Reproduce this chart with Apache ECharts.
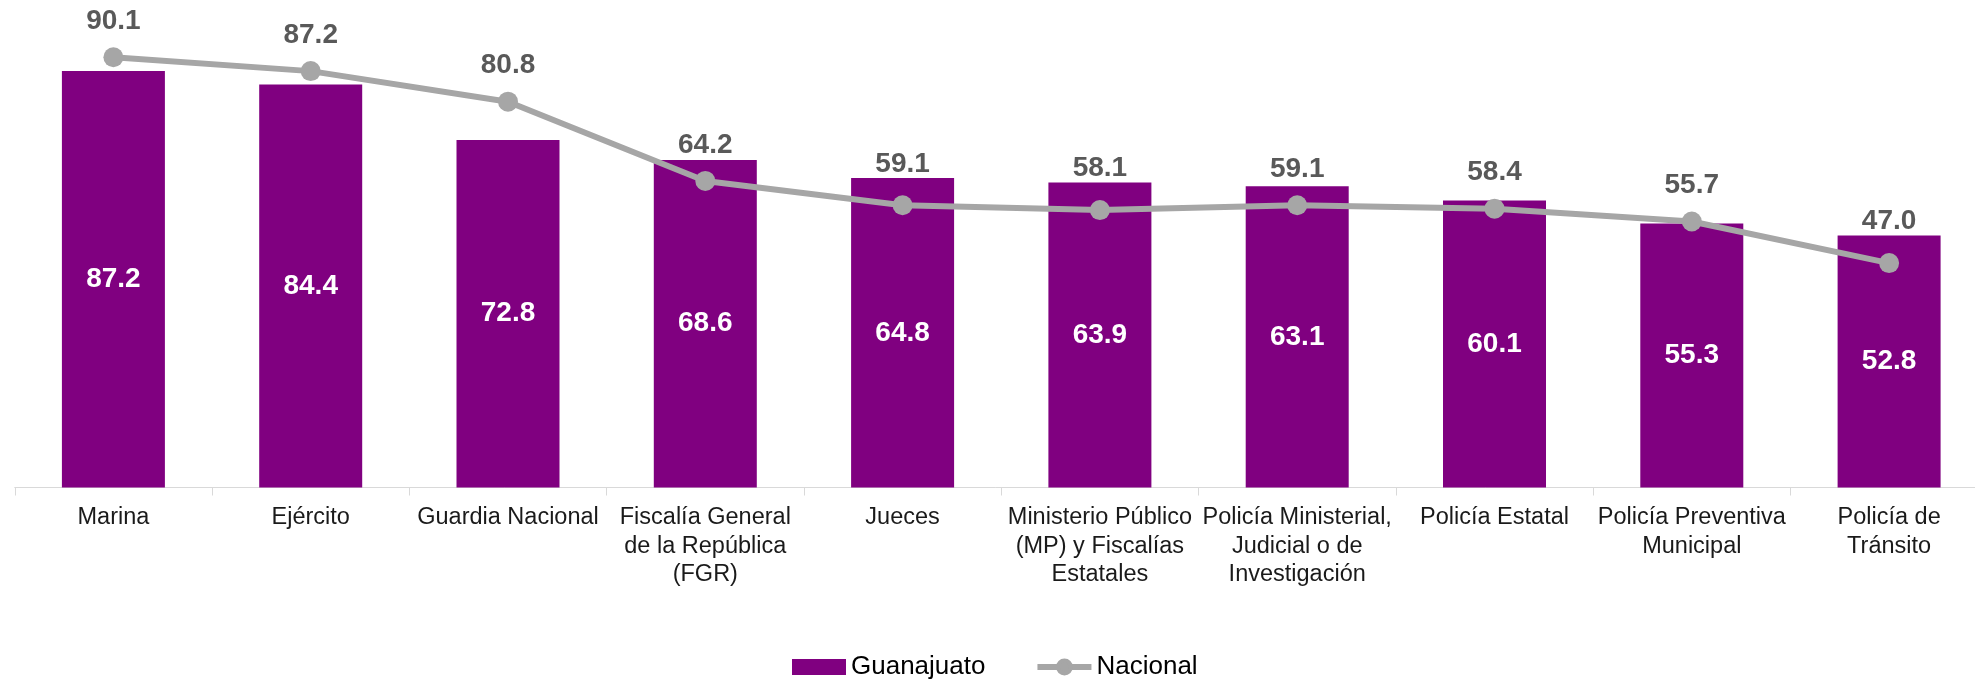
<!DOCTYPE html>
<html>
<head>
<meta charset="utf-8">
<script src="https://cdn.jsdelivr.net/npm/echarts@6/dist/echarts.min.js"></script>
<style>
html,body{margin:0;padding:0;background:#fff;}
#chart{width:1975px;height:679px;}
</style>
</head>
<body>
<div id="chart"></div>
<script>
var categories = [
  'Marina',
  'Ejército',
  'Guardia Nacional',
  'Fiscalía General\nde la República\n(FGR)',
  'Jueces',
  'Ministerio Público\n(MP) y Fiscalías\nEstatales',
  'Policía Ministerial,\nJudicial o de\nInvestigación',
  'Policía Estatal',
  'Policía Preventiva\nMunicipal',
  'Policía de\nTránsito'
];
var guanajuato = [87.2, 84.4, 72.8, 68.6, 64.8, 63.9, 63.1, 60.1, 55.3, 52.8];
var nacional = [90.1, 87.2, 80.8, 64.2, 59.1, 58.1, 59.1, 58.4, 55.7, 47.0];

var chart = echarts.init(document.getElementById('chart'), null, {renderer: 'canvas'});
var FONT = '"Liberation Sans", Arial, sans-serif';

chart.setOption({
  animation: false,
  backgroundColor: '#ffffff',
  textStyle: {fontFamily: FONT},
  grid: {left: 14.75, width: 1973, top: 10, bottom: 191.5, containLabel: false, outerBoundsMode: 'none'},
  legend: {
    left: 787, top: 649,
    itemWidth: 54, itemHeight: 16, itemGap: 49,
    textStyle: {fontFamily: FONT, fontSize: 26, color: '#000000'},
    data: [
      {name: 'Guanajuato', icon: 'rect'},
      {name: 'Nacional', lineStyle: {width: 6, color: '#a6a6a6'},
       itemStyle: {color: '#a6a6a6', borderColor: '#a6a6a6', borderWidth: 4}}
    ]
  },
  xAxis: {
    type: 'category',
    data: categories,
    axisLine: {lineStyle: {color: '#d9d9d9', width: 1}},
    axisTick: {show: true, length: 8, lineStyle: {color: '#d9d9d9'}},
    axisLabel: {
      interval: 0, margin: 16, color: '#1a1a1a',
      fontFamily: FONT, fontSize: 23.5, lineHeight: 28.5
    }
  },
  yAxis: {
    type: 'value', min: 0, max: 100, show: false,
    splitLine: {show: false}
  },
  series: [
    {
      name: 'Guanajuato',
      type: 'bar',
      data: guanajuato,
      barWidth: 103,
      itemStyle: {color: '#800080'},
      label: {
        show: true, position: 'inside', color: '#ffffff',
        fontFamily: FONT, fontSize: 28, fontWeight: 'bold',
        formatter: function (p) { return p.value.toFixed(1); }
      },
      z: 2
    },
    {
      name: 'Nacional',
      type: 'line',
      data: nacional,
      symbol: 'circle',
      symbolSize: 20,
      lineStyle: {color: '#a6a6a6', width: 6},
      itemStyle: {color: '#a6a6a6'},
      label: {
        show: true, position: 'top', distance: 20, color: '#595959',
        fontFamily: FONT, fontSize: 28, fontWeight: 'bold',
        formatter: function (p) { return p.value.toFixed(1); }
      },
      labelLayout: function (params) {
        var i = params.dataIndex;
        var pt = chart.convertToPixel({seriesIndex: 1}, [i, nacional[i]]);
        var bt = chart.convertToPixel({seriesIndex: 0}, [i, guanajuato[i]]);
        if (!pt || !bt) { return {}; }
        var y = Math.min(pt[1] - 36, bt[1] - 14);
        return {x: pt[0], y: y, align: 'center', verticalAlign: 'middle'};
      },
      z: 3
    }
  ]
});
</script>
</body>
</html>
